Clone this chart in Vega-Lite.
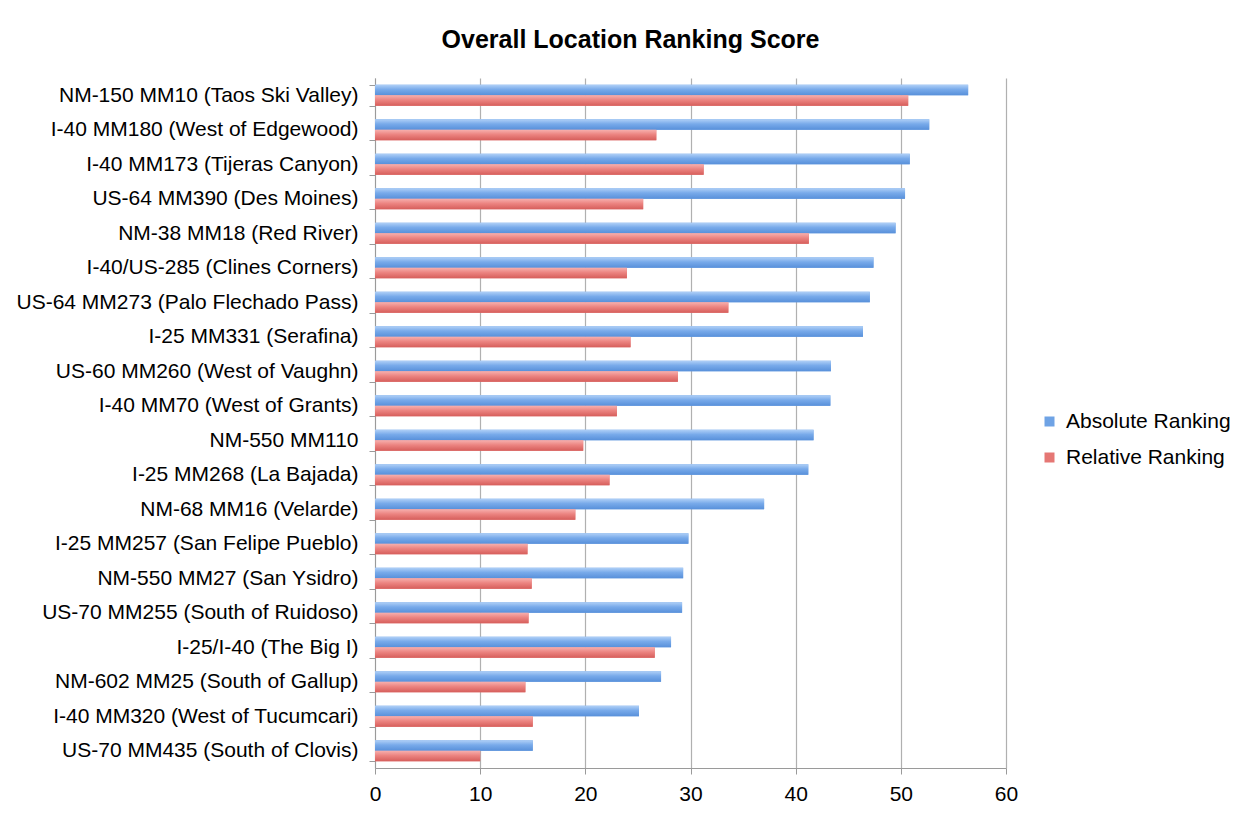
{
  "$schema": "https://vega.github.io/schema/vega-lite/v6.json",
  "autosize": "none",
  "width": 631,
  "height": 690,
  "padding": {"left": 375, "top": 78, "right": 243, "bottom": 48},
  "background": "white",
  "title": {
    "text": "Overall Location Ranking Score",
    "font": "Liberation Sans",
    "fontSize": 25,
    "fontWeight": "bold",
    "color": "black",
    "anchor": "middle",
    "frame": "group",
    "dx": -60,
    "offset": 14
  },
  "data": {
    "values": [
      {"location": "NM-150 MM10 (Taos Ski Valley)", "series": "Absolute Ranking", "score": 56.4},
      {"location": "NM-150 MM10 (Taos Ski Valley)", "series": "Relative Ranking", "score": 50.7},
      {"location": "I-40 MM180 (West of Edgewood)", "series": "Absolute Ranking", "score": 52.7},
      {"location": "I-40 MM180 (West of Edgewood)", "series": "Relative Ranking", "score": 26.75},
      {"location": "I-40 MM173 (Tijeras Canyon)", "series": "Absolute Ranking", "score": 50.85},
      {"location": "I-40 MM173 (Tijeras Canyon)", "series": "Relative Ranking", "score": 31.25},
      {"location": "US-64 MM390 (Des Moines)", "series": "Absolute Ranking", "score": 50.4},
      {"location": "US-64 MM390 (Des Moines)", "series": "Relative Ranking", "score": 25.5},
      {"location": "NM-38 MM18 (Red River)", "series": "Absolute Ranking", "score": 49.5},
      {"location": "NM-38 MM18 (Red River)", "series": "Relative Ranking", "score": 41.25},
      {"location": "I-40/US-285 (Clines Corners)", "series": "Absolute Ranking", "score": 47.4},
      {"location": "I-40/US-285 (Clines Corners)", "series": "Relative Ranking", "score": 23.95},
      {"location": "US-64 MM273 (Palo Flechado Pass)", "series": "Absolute Ranking", "score": 47.05},
      {"location": "US-64 MM273 (Palo Flechado Pass)", "series": "Relative Ranking", "score": 33.6},
      {"location": "I-25 MM331 (Serafina)", "series": "Absolute Ranking", "score": 46.4},
      {"location": "I-25 MM331 (Serafina)", "series": "Relative Ranking", "score": 24.3},
      {"location": "US-60 MM260 (West of Vaughn)", "series": "Absolute Ranking", "score": 43.35},
      {"location": "US-60 MM260 (West of Vaughn)", "series": "Relative Ranking", "score": 28.8},
      {"location": "I-40 MM70 (West of Grants)", "series": "Absolute Ranking", "score": 43.3},
      {"location": "I-40 MM70 (West of Grants)", "series": "Relative Ranking", "score": 23.0},
      {"location": "NM-550 MM110", "series": "Absolute Ranking", "score": 41.7},
      {"location": "NM-550 MM110", "series": "Relative Ranking", "score": 19.8},
      {"location": "I-25 MM268 (La Bajada)", "series": "Absolute Ranking", "score": 41.2},
      {"location": "I-25 MM268 (La Bajada)", "series": "Relative Ranking", "score": 22.3},
      {"location": "NM-68 MM16 (Velarde)", "series": "Absolute Ranking", "score": 37.0},
      {"location": "NM-68 MM16 (Velarde)", "series": "Relative Ranking", "score": 19.05},
      {"location": "I-25 MM257 (San Felipe Pueblo)", "series": "Absolute Ranking", "score": 29.8},
      {"location": "I-25 MM257 (San Felipe Pueblo)", "series": "Relative Ranking", "score": 14.5},
      {"location": "NM-550 MM27 (San Ysidro)", "series": "Absolute Ranking", "score": 29.3},
      {"location": "NM-550 MM27 (San Ysidro)", "series": "Relative Ranking", "score": 14.9},
      {"location": "US-70 MM255 (South of Ruidoso)", "series": "Absolute Ranking", "score": 29.2},
      {"location": "US-70 MM255 (South of Ruidoso)", "series": "Relative Ranking", "score": 14.6},
      {"location": "I-25/I-40 (The Big I)", "series": "Absolute Ranking", "score": 28.15},
      {"location": "I-25/I-40 (The Big I)", "series": "Relative Ranking", "score": 26.6},
      {"location": "NM-602 MM25 (South of Gallup)", "series": "Absolute Ranking", "score": 27.2},
      {"location": "NM-602 MM25 (South of Gallup)", "series": "Relative Ranking", "score": 14.3},
      {"location": "I-40 MM320 (West of Tucumcari)", "series": "Absolute Ranking", "score": 25.1},
      {"location": "I-40 MM320 (West of Tucumcari)", "series": "Relative Ranking", "score": 15.0},
      {"location": "US-70 MM435 (South of Clovis)", "series": "Absolute Ranking", "score": 15.0},
      {"location": "US-70 MM435 (South of Clovis)", "series": "Relative Ranking", "score": 10.0}
    ]
  },
  "encoding": {
    "y": {
      "field": "location",
      "type": "nominal",
      "sort": null,
      "title": null,
      "scale": {"paddingInner": 0.39, "paddingOuter": 0.195},
      "axis": {
        "labelFont": "Liberation Sans",
        "labelFontSize": 21,
        "labelColor": "black",
        "labelPadding": 11,
        "labelLimit": 400,
        "tickBand": "extent",
        "tickSize": 6,
        "tickColor": "#9a9a9a",
        "domainColor": "#9a9a9a",
        "grid": false
      }
    },
    "yOffset": {
      "field": "series",
      "type": "nominal",
      "sort": ["Absolute Ranking", "Relative Ranking"],
      "scale": {"paddingInner": 0}
    },
    "x": {
      "field": "score",
      "type": "quantitative",
      "title": null,
      "scale": {"domain": [0, 60], "nice": false},
      "axis": {
        "values": [0, 10, 20, 30, 40, 50, 60],
        "labelFont": "Liberation Sans",
        "labelFontSize": 21,
        "labelColor": "black",
        "labelPadding": 9,
        "tickSize": 6,
        "tickColor": "#9a9a9a",
        "domainColor": "#9a9a9a",
        "grid": true,
        "gridColor": "#b0b0b0",
        "gridWidth": 1.2,
        "labelFlush": false
      }
    }
  },
  "layer": [
    {
      "mark": {"type": "bar", "stroke": null},
      "encoding": {
        "color": {
          "field": "series",
          "type": "nominal",
          "sort": ["Absolute Ranking", "Relative Ranking"],
          "scale": {"range": ["#6fa3e5", "#e57774"]},
          "legend": {
            "title": null,
            "orient": "none",
            "legendX": 664,
            "legendY": 333,
            "symbolType": "square",
            "symbolSize": 100,
            "symbolStrokeWidth": 0,
            "labelFont": "Liberation Sans",
            "labelFontSize": 21,
            "labelColor": "black",
            "labelOffset": 6,
            "labelLimit": 300,
            "rowPadding": 14
          }
        }
      }
    },
    {
      "mark": {"type": "bar", "stroke": null},
      "encoding": {
        "fill": {
          "condition": {
            "test": "datum.series === 'Absolute Ranking'",
            "value": {"gradient": "linear", "x1": 0, "y1": 0, "x2": 0, "y2": 1, "stops": [{"offset": 0, "color": "#b0d0f7"}, {"offset": 0.45, "color": "#78aaea"}, {"offset": 1, "color": "#5890da"}]}
          },
          "value": {"gradient": "linear", "x1": 0, "y1": 0, "x2": 0, "y2": 1, "stops": [{"offset": 0, "color": "#f7b0ae"}, {"offset": 0.45, "color": "#ec8481"}, {"offset": 1, "color": "#d65e5b"}]}
        }
      }
    }
  ],
  "config": {"view": {"stroke": null}}
}
